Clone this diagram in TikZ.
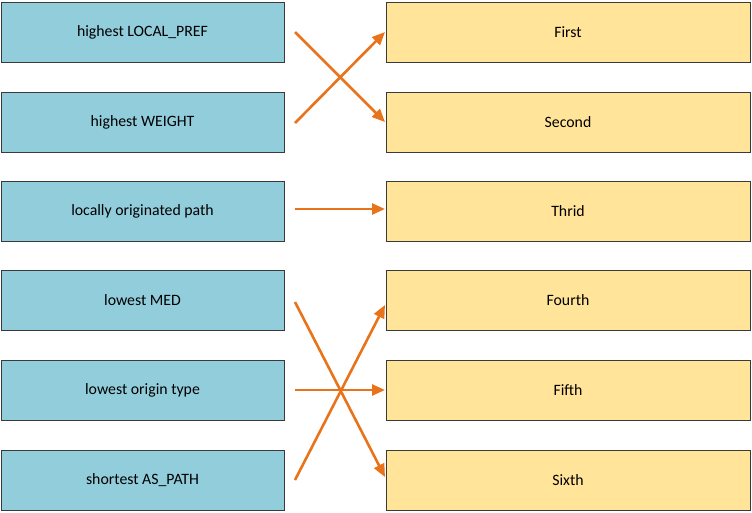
\documentclass[tikz,border=0pt]{standalone}
\usepackage{fontspec}
\setmainfont{Carlito}
\usetikzlibrary{arrows.meta}
\definecolor{lblue}{HTML}{92CDDC}
\definecolor{lyel}{HTML}{FFE499}
\definecolor{bord}{HTML}{3A3A3A}
\definecolor{arr}{HTML}{E8731A}
\begin{document}
\begin{tikzpicture}[x=1pt,y=-1pt,
  crit/.style={draw=bord,fill=lblue,line width=1pt,minimum width=283pt,minimum height=60pt,inner sep=0pt,font=\fontsize{15.8}{18}\selectfont},
  rank/.style={draw=bord,fill=lyel,line width=1pt,minimum width=364pt,minimum height=60pt,inner sep=0pt,font=\fontsize{15.8}{18}\selectfont},
  link/.style={draw=arr,line width=2.6pt,-{Triangle[length=13pt,width=11pt]}}]
\useasboundingbox (0,0) rectangle (752,512);
\node[crit] (c1) at (142.5,32) {highest LOCAL\_PREF};
\node[crit] (c2) at (142.5,122) {highest WEIGHT};
\node[crit] (c3) at (142.5,211) {locally originated path};
\node[crit] (c4) at (142.5,300) {lowest MED};
\node[crit] (c5) at (142.5,390) {lowest origin type};
\node[crit] (c6) at (142.5,480) {shortest AS\_PATH};
\node[rank] (r1) at (568,32) {First};
\node[rank] (r2) at (568,122) {Second};
\node[rank] (r3) at (568,211) {Thrid};
\node[rank] (r4) at (568,300) {Fourth};
\node[rank] (r5) at (568,390) {Fifth};
\node[rank] (r6) at (568,480) {Sixth};
\coordinate (s1) at (295,32);
\coordinate (s2) at (295,123);
\coordinate (s3) at (295,209);
\coordinate (s4) at (295,302);
\coordinate (s5) at (295,390);
\coordinate (s6) at (295,480);
\coordinate (e1) at (385,32);
\coordinate (e2) at (385,122);
\coordinate (e3) at (385,209);
\coordinate (e4) at (385,305);
\coordinate (e5) at (385,390);
\coordinate (e6) at (385,477);
\draw[link] (s1) -- (e2);
\draw[link] (s2) -- (e1);
\draw[link] (s3) -- (e3);
\draw[link] (s4) -- (e6);
\draw[link] (s5) -- (e5);
\draw[link] (s6) -- (e4);
\end{tikzpicture}
\end{document}
